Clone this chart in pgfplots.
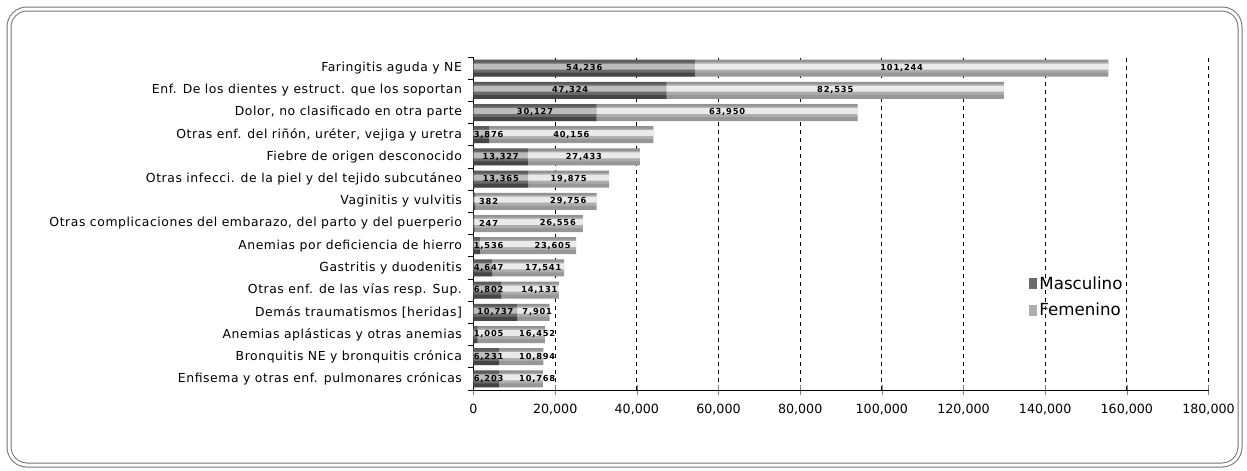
\documentclass[border=0pt]{standalone}
\usepackage{fontspec}
\setmainfont{DejaVu Sans}
\newfontfamily\catfont[LetterSpace=4.5]{DejaVu Sans}
\newfontfamily\valfont[LetterSpace=10]{DejaVu Sans}
\usepackage{pgfplots}
\pgfplotsset{compat=1.18}
\usepackage{pgfplotstable}

% Consultas por causa: m = Masculino, f = Femenino
\pgfplotstableread{
idx m f
0 54236 101244
1 47324 82535
2 30127 63950
3 3876 40156
4 13327 27433
5 13365 19875
6 382 29756
7 247 26556
8 1536 23605
9 4647 17541
10 6802 14131
11 10737 7901
12 1005 16452
13 6231 10894
14 6203 10768
}\diagdata

\pgfplotsset{
  baseaxis/.style={
    scale only axis,
    width=551.25pt, height=249.75pt,
    xmin=0, xmax=180000, ymin=-0.5, ymax=14.5,
    at={(355.125pt,-292.5pt)}, anchor=south west,
  },
  % thin stacked bands laid over the bars for a rounded look
  bandaxis/.style={baseaxis, hide axis, xbar stacked, bar width=#1},
}

\begin{document}
\begin{tikzpicture}
\useasboundingbox (0,0) rectangle (935.25pt,-353.25pt);

\begin{axis}[
  baseaxis,
  xbar stacked, bar width=12.75pt,
  axis x line*=bottom, axis y line*=left,
  axis line style={black, line width=0.7pt},
  xtick={0,20000,...,180000},
  scaled x ticks=false,
  xticklabel={\pgfmathprintnumber[fixed,precision=0,1000 sep={,},assume math mode=true]{\tick}},
  xticklabel style={font=\fontsize{9.5}{11}\selectfont, yshift=-3pt},
  xmajorgrids,
  grid style={black, line width=0.65pt, dash pattern=on 3pt off 3pt},
  xtick align=center, ytick align=outside,
  major tick length=7.5pt, minor tick length=3.75pt,
  ytick={0,...,14},
  minor ytick={-0.5,0.5,...,14.5},
  every major y tick/.append style={draw=none},
  every minor y tick/.append style={black, line width=0.6pt},
  yticklabels={
    {Enfisema y otras enf. pulmonares crónicas},
    {Bronquitis NE y bronquitis crónica},
    {Anemias aplásticas y otras anemias},
    {Demás traumatismos [heridas]},
    {Otras enf. de las vías resp. Sup.},
    {Gastritis y duodenitis},
    {Anemias por deficiencia de hierro},
    {Otras complicaciones del embarazo, del parto y del puerperio},
    {Vaginitis y vulvitis},
    {Otras infecci. de la piel y del tejido subcutáneo},
    {Fiebre de origen desconocido},
    {Otras enf. del riñón, uréter, vejiga y uretra},
    {Dolor, no clasificado en otra parte},
    {Enf. De los dientes y estruct. que los soportan},
    {Faringitis aguda y NE}},
  yticklabel style={font=\catfont\fontsize{9.3}{10}\selectfont, inner sep=0pt, xshift=-1pt},
  legend style={draw=none, fill=none, at={(0.756,0.279)}, anchor=west,
    font=\fontsize{12.5}{14}\selectfont, row sep=5pt, inner sep=0pt},
  legend cell align=left,
  legend image code/.code={\path[#1] (0pt,-4pt) rectangle (5.5pt,4pt);},
]
\addplot[draw=none, fill=black!58] table[x=m, y expr=14-\thisrow{idx}] {\diagdata};
\addlegendentry{Masculino}
\addplot[draw=none, fill=black!32] table[x=f, y expr=14-\thisrow{idx}] {\diagdata};
\addlegendentry{Femenino}
\end{axis}

% light band across the middle of each bar
\begin{axis}[bandaxis=4.5pt, bar shift=1.2pt]
\addplot[draw=none, fill=white, fill opacity=0.55] table[x=m, y expr=14-\thisrow{idx}] {\diagdata};
\addplot[draw=none, fill=white, fill opacity=0.75] table[x=f, y expr=14-\thisrow{idx}] {\diagdata};
\end{axis}
% darker band along the lower edge
\begin{axis}[bandaxis=3pt, bar shift=-4.9pt]
\addplot[draw=none, fill=black, fill opacity=0.35] table[x=m, y expr=14-\thisrow{idx}] {\diagdata};
\addplot[draw=none, fill=black, fill opacity=0.12] table[x=f, y expr=14-\thisrow{idx}] {\diagdata};
\end{axis}
% thin shade along the upper edge
\begin{axis}[bandaxis=1.8pt, bar shift=5.5pt]
\addplot[draw=none, fill=black, fill opacity=0.15] table[x=m, y expr=14-\thisrow{idx}] {\diagdata};
\addplot[draw=none, fill=black, fill opacity=0.15] table[x=f, y expr=14-\thisrow{idx}] {\diagdata};
\end{axis}

% value labels over the segments
\begin{axis}[baseaxis, hide axis, clip=false]
\addplot[draw=none, mark=none,
  point meta=\thisrow{m},
  nodes near coords={\pgfmathprintnumber[fixed,precision=0,1000 sep={,},assume math mode=true]{\pgfplotspointmeta}},
  every node near coord/.append style={anchor=center, inner sep=0pt,
    font=\valfont\bfseries\fontsize{6.2}{7}\selectfont}]
  table[x expr={max(\thisrow{m}/2,3700)}, y expr=14-\thisrow{idx}] {\diagdata};
\addplot[draw=none, mark=none,
  point meta=\thisrow{f},
  nodes near coords={\pgfmathprintnumber[fixed,precision=0,1000 sep={,},assume math mode=true]{\pgfplotspointmeta}},
  every node near coord/.append style={anchor=center, inner sep=0pt,
    font=\valfont\bfseries\fontsize{6.2}{7}\selectfont}]
  table[x expr={((\thisrow{m}+\thisrow{f})<32000) ? max(0.77*(\thisrow{m}+\thisrow{f}),15600) : (\thisrow{m}+\thisrow{f}/2)},
        y expr=14-\thisrow{idx}] {\diagdata};
\end{axis}

% rounded double frame
\draw[black!55, line width=0.75pt, double=white, double distance=2.25pt, rounded corners=13.5pt]
  (6.75pt,-6.75pt) rectangle (930pt,-348.75pt);
\end{tikzpicture}
\end{document}
